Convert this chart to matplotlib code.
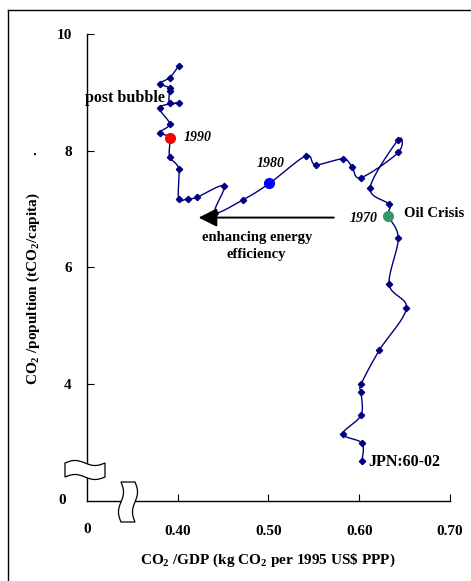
import numpy as np
import matplotlib
matplotlib.use("Agg")
import matplotlib.pyplot as plt
from matplotlib.patches import Polygon
from matplotlib.lines import Line2D

plt.rcParams["font.family"] = ["Liberation Serif", "DejaVu Serif"]
plt.rcParams["font.weight"] = "bold"
plt.rcParams["mathtext.fontset"] = "custom"
plt.rcParams["mathtext.rm"] = "Liberation Serif:bold"
plt.rcParams["mathtext.default"] = "regular"

# Japan 1960-2002: carbon intensity of GDP vs. emissions per head
co2_gdp = [0.603, 0.603, 0.582, 0.602, 0.602, 0.602, 0.622, 0.652, 0.633, 0.643,
           0.632, 0.633, 0.612, 0.643, 0.643, 0.602, 0.592, 0.582, 0.552, 0.541,
           0.501, 0.472, 0.441, 0.451, 0.421, 0.411, 0.401, 0.401, 0.391, 0.391,
           0.380, 0.391, 0.380, 0.401, 0.391, 0.391, 0.391, 0.380, 0.391, 0.401]
co2_pop = [2.68, 2.99, 3.15, 3.47, 3.86, 4.00, 4.58, 5.30, 5.71, 6.50,
           6.89, 7.08, 7.37, 8.19, 7.97, 7.54, 7.73, 7.86, 7.76, 7.91,
           7.44, 7.16, 6.94, 7.40, 7.20, 7.18, 7.18, 7.69, 7.90, 8.22,
           8.31, 8.46, 8.74, 8.82, 8.82, 9.03, 9.08, 9.15, 9.25, 9.45]

# highlighted years (index into the series above)
mark_years = ["1970", "1980", "1990"]
mark_idx = [10, 20, 29]
mark_colors = ["#339966", "#0000ff", "#ff0000"]

xticks = [0.40, 0.50, 0.60, 0.70]
yticks = [4, 6, 8, 10]


def smooth(ax, x, y, n=20):
    # Catmull-Rom through the points, computed in screen space
    pts = ax.transData.transform(np.column_stack([x, y]))
    p = np.vstack([pts[0], pts, pts[-1]])
    out = []
    t = np.linspace(0, 1, n, endpoint=False)[:, None]
    for i in range(1, len(p) - 2):
        p0, p1, p2, p3 = p[i - 1], p[i], p[i + 1], p[i + 2]
        seg = 0.5 * ((2 * p1) + (-p0 + p2) * t + (2 * p0 - 5 * p1 + 4 * p2 - p3) * t ** 2
                     + (-p0 + 3 * p1 - 3 * p2 + p3) * t ** 3)
        out.append(seg)
    out.append(p[-2][None, :])
    out = np.vstack(out)
    return ax.transData.inverted().transform(out).T


fig = plt.figure(figsize=(4.71, 5.81), dpi=100)
ax = fig.add_axes([0.1847, 0.1377, 0.7707, 0.8038])
ax.set_xlim(0.30, 0.70)
ax.set_ylim(2, 10)
for s in ["top", "right"]:
    ax.spines[s].set_visible(False)
for s in ["left", "bottom"]:
    ax.spines[s].set_linewidth(1.0)

ax.set_xticks(xticks)
ax.set_xticklabels([f"{v:.2f}" for v in xticks], fontsize=11, fontweight="bold")
ax.set_yticks(yticks)
ax.set_yticklabels([str(v) for v in yticks], fontsize=11, fontweight="bold")
ax.tick_params(axis="x", direction="in", length=5, pad=17)
ax.tick_params(axis="y", direction="in", length=5, pad=11)
ax.text(0.30, -0.062, "0", transform=ax.get_xaxis_transform(), ha="center", va="center",
        fontsize=11, fontweight="bold")
ax.text(-0.058, 2.0, "0", transform=ax.get_yaxis_transform(), ha="right", va="center",
        fontsize=11, fontweight="bold")

sx, sy = smooth(ax, co2_gdp, co2_pop)
ax.plot(sx, sy, color="#000080", lw=1.0, zorder=2)
ax.plot(co2_gdp, co2_pop, ls="none", marker="D", ms=3.2, color="#000080", zorder=3)
for i, c in zip(mark_idx, mark_colors):
    ax.plot(co2_gdp[i], co2_pop[i], "o", ms=7, color=c, zorder=4)

# year labels
ax.text(0.590, 6.84, mark_years[0], style="italic", fontsize=10, va="center")
ax.text(0.487, 7.78, mark_years[1], style="italic", fontsize=10, va="center")
ax.text(0.406, 8.22, mark_years[2], style="italic", fontsize=10, va="center")

ax.text(0.649, 6.92, "Oil Crisis", fontsize=10.5, va="center")
ax.text(0.298, 8.91, "post bubble", fontsize=11.5, va="center")
ax.text(0.6095, 2.67, "JPN:60-02", fontsize=11.5, va="center")
ax.text(0.487, 6.36, "enhancing energy\nefficiency", fontsize=10.5, ha="center",
        va="center", linespacing=1.4)
ax.annotate("", xy=(0.423, 6.855), xytext=(0.572, 6.855),
            arrowprops=dict(arrowstyle="-|>,head_length=0.8,head_width=0.4",
                            lw=1.4, color="black", mutation_scale=14,
                            shrinkA=0, shrinkB=0))

# axis break symbols
def wavy_box(cx, cy, w, h, vertical):
    t = np.linspace(0, 1, 30)
    wave = 0.18 * np.sin(2 * np.pi * t)
    if not vertical:
        top = np.column_stack([cx - w / 2 + w * t, cy + h / 2 + h * wave])
        bot = np.column_stack([cx + w / 2 - w * t, cy - h / 2 + h * wave[::-1]])
    else:
        top = np.column_stack([cx + w / 2 + w * wave, cy + h / 2 - h * t])
        bot = np.column_stack([cx - w / 2 + w * wave[::-1], cy - h / 2 + h * t])
    return np.vstack([top, bot])

px = 1 / 363.0
py = 1 / 467.0
ax.add_patch(Polygon(wavy_box(-2 * px, 31 * py, 40 * px, 14 * py, False), closed=True,
                     facecolor="white", edgecolor="black", lw=0.9,
                     transform=ax.transAxes, clip_on=False, zorder=5))
ax.add_patch(Polygon(wavy_box(41 * px, -1 * py, 14 * px, 40 * py, True), closed=True,
                     facecolor="white", edgecolor="black", lw=0.9,
                     transform=ax.transAxes, clip_on=False, zorder=5))

fig.text(268 / 471, 1 - 560 / 581, "CO$_{2}$ /GDP (kg CO$_{2}$ per 1995 US\\$ PPP)",
         ha="center", va="center", fontsize=11, fontweight="bold")
fig.text(33 / 471, 1 - 268 / 581, "CO$_{2}$ /popultion (tCO$_{2}$/capita)          .",
         ha="center", va="center", rotation=90, fontsize=11, fontweight="bold")

# frame around the figure
fig.add_artist(Line2D([8 / 471, 8 / 471], [0, 1 - 10 / 581], color="black", lw=1.0))
fig.add_artist(Line2D([8 / 471, 1], [1 - 10 / 581, 1 - 10 / 581], color="black", lw=1.0))

fig.savefig("out.png", dpi=100)
